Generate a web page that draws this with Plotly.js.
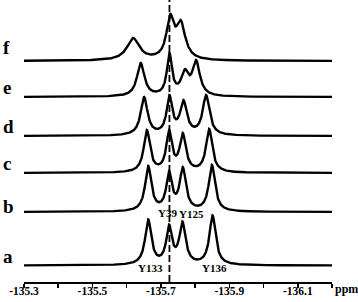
<!DOCTYPE html>
<html>
<head>
<meta charset="utf-8">
<script src="https://cdn.plot.ly/plotly-3.0.1.min.js"></script>
<style>html,body{margin:0;padding:0;background:#fff;}#chart{width:358px;height:302px;}</style>
</head>
<body>
<div id="chart"></div>
<script>
// ---- data ----
const traceLabels = ['a', 'b', 'c', 'd', 'e', 'f'];
const tickVals = [-135.3, -135.4, -135.5, -135.6, -135.7, -135.8, -135.9, -136.0, -136.1, -136.2];
const tickLabels = ['-135.3', '', '-135.5', '', '-135.7', '', '-135.9', '', '-136.1', ''];
const referencePpm = [-135.725];

// peak positions (ppm), observed peak tops (height above baseline), half widths (ppm)
const peakPpmA = [-135.663, -135.724, -135.763, -135.851];
const peakTopA = [46, 41, 44, 50];
const peakHwA  = [0.011, 0.010, 0.011, 0.011];

const peakPpmB = [-135.663, -135.724, -135.764, -135.849];
const peakTopB = [46, 41, 45, 47];
const peakHwB  = [0.011, 0.010, 0.011, 0.011];

const peakPpmC = [-135.659, -135.724, -135.764, -135.841];
const peakTopC = [43, 43, 40, 44];
const peakHwC  = [0.011, 0.010, 0.011, 0.011];

const peakPpmD = [-135.651, -135.725, -135.766, -135.832];
const peakTopD = [39, 41, 36, 41];
const peakHwD  = [0.012, 0.010, 0.012, 0.012];

const peakPpmE = [-135.641, -135.725, -135.770, -135.803];
const peakTopE = [34, 44, 28, 37];
const peakHwE  = [0.013, 0.009, 0.013, 0.013];

const peakPpmF = [-135.619, -135.727, -135.758];
const peakTopF = [23, 47, 41];
const peakHwF  = [0.022, 0.013, 0.016];

const residueNames = ['Y133', 'Y39', 'Y125', 'Y136'];
const residuePpm   = [-135.671, -135.719, -135.788, -135.858];

// ---- layout / style (not data) ----
const baseOffsets = [16.5, 70, 109, 146, 185, 221];
const labelLift   = [9, 6, 10, 10, 10, 14];
const residueY    = [14, 69, 68, 14];

const peakSets = [
  [peakPpmA, peakTopA, peakHwA],
  [peakPpmB, peakTopB, peakHwB],
  [peakPpmC, peakTopC, peakHwC],
  [peakPpmD, peakTopD, peakHwD],
  [peakPpmE, peakTopE, peakHwE],
  [peakPpmF, peakTopF, peakHwF]
];

function lor(x, c, w) { const d = (x - c) / w; return 1 / (1 + d * d); }

// find individual amplitudes so the summed lineshape reproduces observed tops
function amplitudes(pos, tops, hw) {
  const h = tops.slice();
  for (let it = 0; it < 60; it++) {
    for (let i = 0; i < pos.length; i++) {
      let s = 0;
      for (let j = 0; j < pos.length; j++) s += h[j] * lor(pos[i], pos[j], hw[j]);
      h[i] += (tops[i] - s) * 0.5;
    }
  }
  return h;
}

const grid = [];
for (let k = 0; k <= 1800; k++) grid.push(-135.3 - k * 0.0005);

const traces = peakSets.map((set, idx) => {
  const [pos, tops, hw] = set;
  const amp = amplitudes(pos, tops, hw);
  const y = grid.map(x => {
    let s = 0;
    for (let j = 0; j < pos.length; j++) s += amp[j] * lor(x, pos[j], hw[j]);
    return baseOffsets[idx] + s;
  });
  return {
    x: grid, y: y, type: 'scatter', mode: 'lines',
    line: {color: '#000', width: 2.4}, hoverinfo: 'skip', showlegend: false
  };
});

const serif = 'Liberation Serif, Times New Roman, serif';
const annotations = [];
traceLabels.forEach((t, i) => {
  annotations.push({
    text: '<b>' + t + '</b>', xref: 'paper', x: -0.0747, xanchor: 'left',
    yref: 'y', y: baseOffsets[i] + labelLift[i], yanchor: 'middle',
    showarrow: false, font: {family: serif, size: 19, color: '#000'}
  });
});
residueNames.forEach((r, i) => {
  annotations.push({
    text: '<b>' + r + '</b>', xref: 'x', x: residuePpm[i], xanchor: 'center',
    yref: 'y', y: residueY[i], yanchor: 'middle',
    showarrow: false, font: {family: serif, size: 11, color: '#000'}
  });
});
annotations.push({
  text: '<b>ppm</b>', xref: 'paper', x: 1.0487, xanchor: 'center',
  yref: 'paper', y: -0.024, yanchor: 'middle',
  showarrow: false, font: {family: serif, size: 12, color: '#000'}
});

const layout = {
  width: 358, height: 302,
  margin: {l: 24, r: 26, t: 0, b: 20},
  paper_bgcolor: '#fff', plot_bgcolor: '#fff',
  xaxis: {
    range: [-135.3, -136.2], showgrid: false, zeroline: false,
    showline: true, linecolor: '#000', linewidth: 1.6,
    ticks: 'outside', ticklen: 4, tickwidth: 1.6, tickcolor: '#000',
    tickmode: 'array', tickvals: tickVals,
    ticktext: tickLabels.map(s => s ? '<b>' + s + '</b>' : ''),
    ticklabelstandoff: -6,
    tickfont: {family: serif, size: 11.5, color: '#000'},
    fixedrange: true
  },
  yaxis: {range: [0, 282], visible: false, fixedrange: true},
  shapes: referencePpm.map(p => ({
    type: 'line', xref: 'x', x0: p, x1: p, yref: 'paper', y0: 0, y1: 1,
    line: {color: '#000', width: 1.8, dash: '7px,3px'}
  })),
  annotations: annotations
};

Plotly.newPlot('chart', traces, layout, {displayModeBar: false, staticPlot: true});
</script>
</body>
</html>
